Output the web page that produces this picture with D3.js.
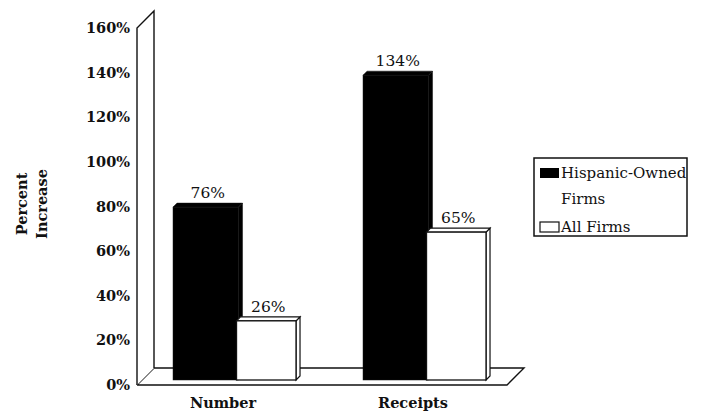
<!DOCTYPE html>
<html>
<head>
<meta charset="utf-8">
<script src="https://cdn.jsdelivr.net/npm/d3@7"></script>
<style>
  html, body { margin: 0; padding: 0; background: #fff; }
  svg { display: block; }
</style>
</head>
<body>
<svg id="chart" width="707" height="415"></svg>
<script>
// ---- data ----
const categories = ["Number", "Receipts"];
const seriesNames = ["Hispanic-Owned Firms", "All Firms"];
const hispanicValues = [76, 134];
const allFirmsValues = [26, 65];
const tickValues = [0, 20, 40, 60, 80, 100, 120, 140, 160];
const tickLabels = ["0%", "20%", "40%", "60%", "80%", "100%", "120%", "140%", "160%"];
const valueLabels = [["76%", "26%"], ["134%", "65%"]];

const rows = categories.map((c, i) => ({
  cat: c,
  vals: [
    { s: seriesNames[0], v: hispanicValues[i], label: valueLabels[i][0] },
    { s: seriesNames[1], v: allFirmsValues[i], label: valueLabels[i][1] }
  ]
}));

const svg = d3.select("#chart");
const serifB = "'DejaVu Serif', 'Liberation Serif', serif";

// ---- geometry ----
const wallX = 137, D = 17;                 // front-left wall x, 3D depth
const floorRightX = 507;
const yFront = d3.scaleLinear().domain([0, 160]).range([385, 28]);
const yBar = d3.scaleLinear().domain([0, 160]).range([380, 16]);
const x = d3.scaleBand().domain(categories).range([143, 523])
  .paddingInner(0.316).paddingOuter(0.158);
const xSub = d3.scaleBand().domain(seriesNames).range([0, 127]);
const bd = 4; // bar depth

const g = svg.append("g");
const line = (pts) => "M" + pts.map(p => p.join(",")).join("L");

// floor
const f0 = yFront(0);
g.append("path")
  .attr("d", line([[wallX, f0], [floorRightX, f0], [floorRightX + D, f0 - D], [wallX + D, f0 - D], [wallX, f0]]))
  .attr("fill", "#fff").attr("stroke", "#111").attr("stroke-width", 1.4);

// left wall
const ft = yFront(160);
g.append("path")
  .attr("d", line([[wallX, f0], [wallX, ft], [wallX + D, ft - D], [wallX + D, f0 - D]]))
  .attr("fill", "#fff").attr("stroke", "#111").attr("stroke-width", 1.4);

// tick labels
g.selectAll("text.tick").data(tickValues).enter().append("text")
  .attr("class", "tick")
  .attr("x", wallX - 7).attr("y", d => yFront(d)).attr("dy", "0.35em")
  .attr("text-anchor", "end")
  .attr("font-family", serifB).attr("font-weight", "bold").attr("font-size", 14.5)
  .attr("fill", "#111")
  .text((d, i) => tickLabels[i]);

// bars
const groups = g.selectAll("g.grp").data(rows).enter().append("g")
  .attr("class", "grp")
  .attr("transform", d => `translate(${x(d.cat)},0)`);

groups.each(function(row) {
  const gg = d3.select(this);
  row.vals.forEach((d, j) => {
    const black = j === 0;
    const x0 = xSub(d.s);
    const w = black ? xSub.bandwidth() + 2 : xSub.bandwidth() - bd;
    const top = yBar(d.v), bot = yBar(0);
    const fill = black ? "#000" : "#fff";
    const stroke = "#111";
    // side face
    gg.append("path")
      .attr("d", line([[x0 + w, top], [x0 + w + bd, top - bd], [x0 + w + bd, bot - bd], [x0 + w, bot]]) + "Z")
      .attr("fill", fill).attr("stroke", stroke).attr("stroke-width", black ? 0.5 : 1.2);
    // top face
    gg.append("path")
      .attr("d", line([[x0, top], [x0 + bd, top - bd], [x0 + w + bd, top - bd], [x0 + w, top]]) + "Z")
      .attr("fill", fill).attr("stroke", stroke).attr("stroke-width", black ? 0.5 : 1.2);
    // front face
    gg.append("rect")
      .attr("x", x0).attr("y", top).attr("width", w).attr("height", bot - top)
      .attr("fill", fill).attr("stroke", stroke).attr("stroke-width", black ? 0.5 : 1.3);
    // value label
    gg.append("text")
      .attr("x", x0 + (w + bd) / 2).attr("y", top - 9)
      .attr("text-anchor", "middle")
      .attr("font-family", serifB).attr("font-size", 15.5).attr("fill", "#111")
      .text(d.label);
  });
});

// category labels
g.selectAll("text.cat").data(categories).enter().append("text")
  .attr("class", "cat")
  .attr("x", d => x(d) + x.bandwidth() / 2 - 15)
  .attr("y", 408)
  .attr("text-anchor", "middle")
  .attr("font-family", serifB).attr("font-weight", "bold").attr("font-size", 14.5)
  .attr("fill", "#111")
  .text(d => d);

// y-axis title
const yt = g.append("text")
  .attr("transform", "translate(0,204) rotate(-90)")
  .attr("text-anchor", "middle")
  .attr("font-family", serifB).attr("font-weight", "bold").attr("font-size", 14.5)
  .attr("fill", "#111");
yt.append("tspan").attr("x", 0).attr("y", 27).text("Percent");
yt.append("tspan").attr("x", 0).attr("y", 47).text("Increase");

// legend
const lg = svg.append("g");
lg.append("rect").attr("x", 534).attr("y", 158).attr("width", 153).attr("height", 78)
  .attr("fill", "#fff").attr("stroke", "#111").attr("stroke-width", 1.5);
lg.append("rect").attr("x", 540).attr("y", 168).attr("width", 19).attr("height", 10)
  .attr("fill", "#000");
lg.append("rect").attr("x", 540).attr("y", 222).attr("width", 19).attr("height", 10)
  .attr("fill", "#fff").attr("stroke", "#111").attr("stroke-width", 1.2);
const lt = lg.append("text").attr("font-family", serifB).attr("font-size", 15).attr("fill", "#111");
lt.append("tspan").attr("x", 561).attr("y", 178).text("Hispanic-Owned");
lt.append("tspan").attr("x", 561).attr("y", 204).text("Firms");
lg.append("text").attr("x", 561).attr("y", 232)
  .attr("font-family", serifB).attr("font-size", 15).attr("fill", "#111")
  .text("All Firms");
</script>
</body>
</html>
